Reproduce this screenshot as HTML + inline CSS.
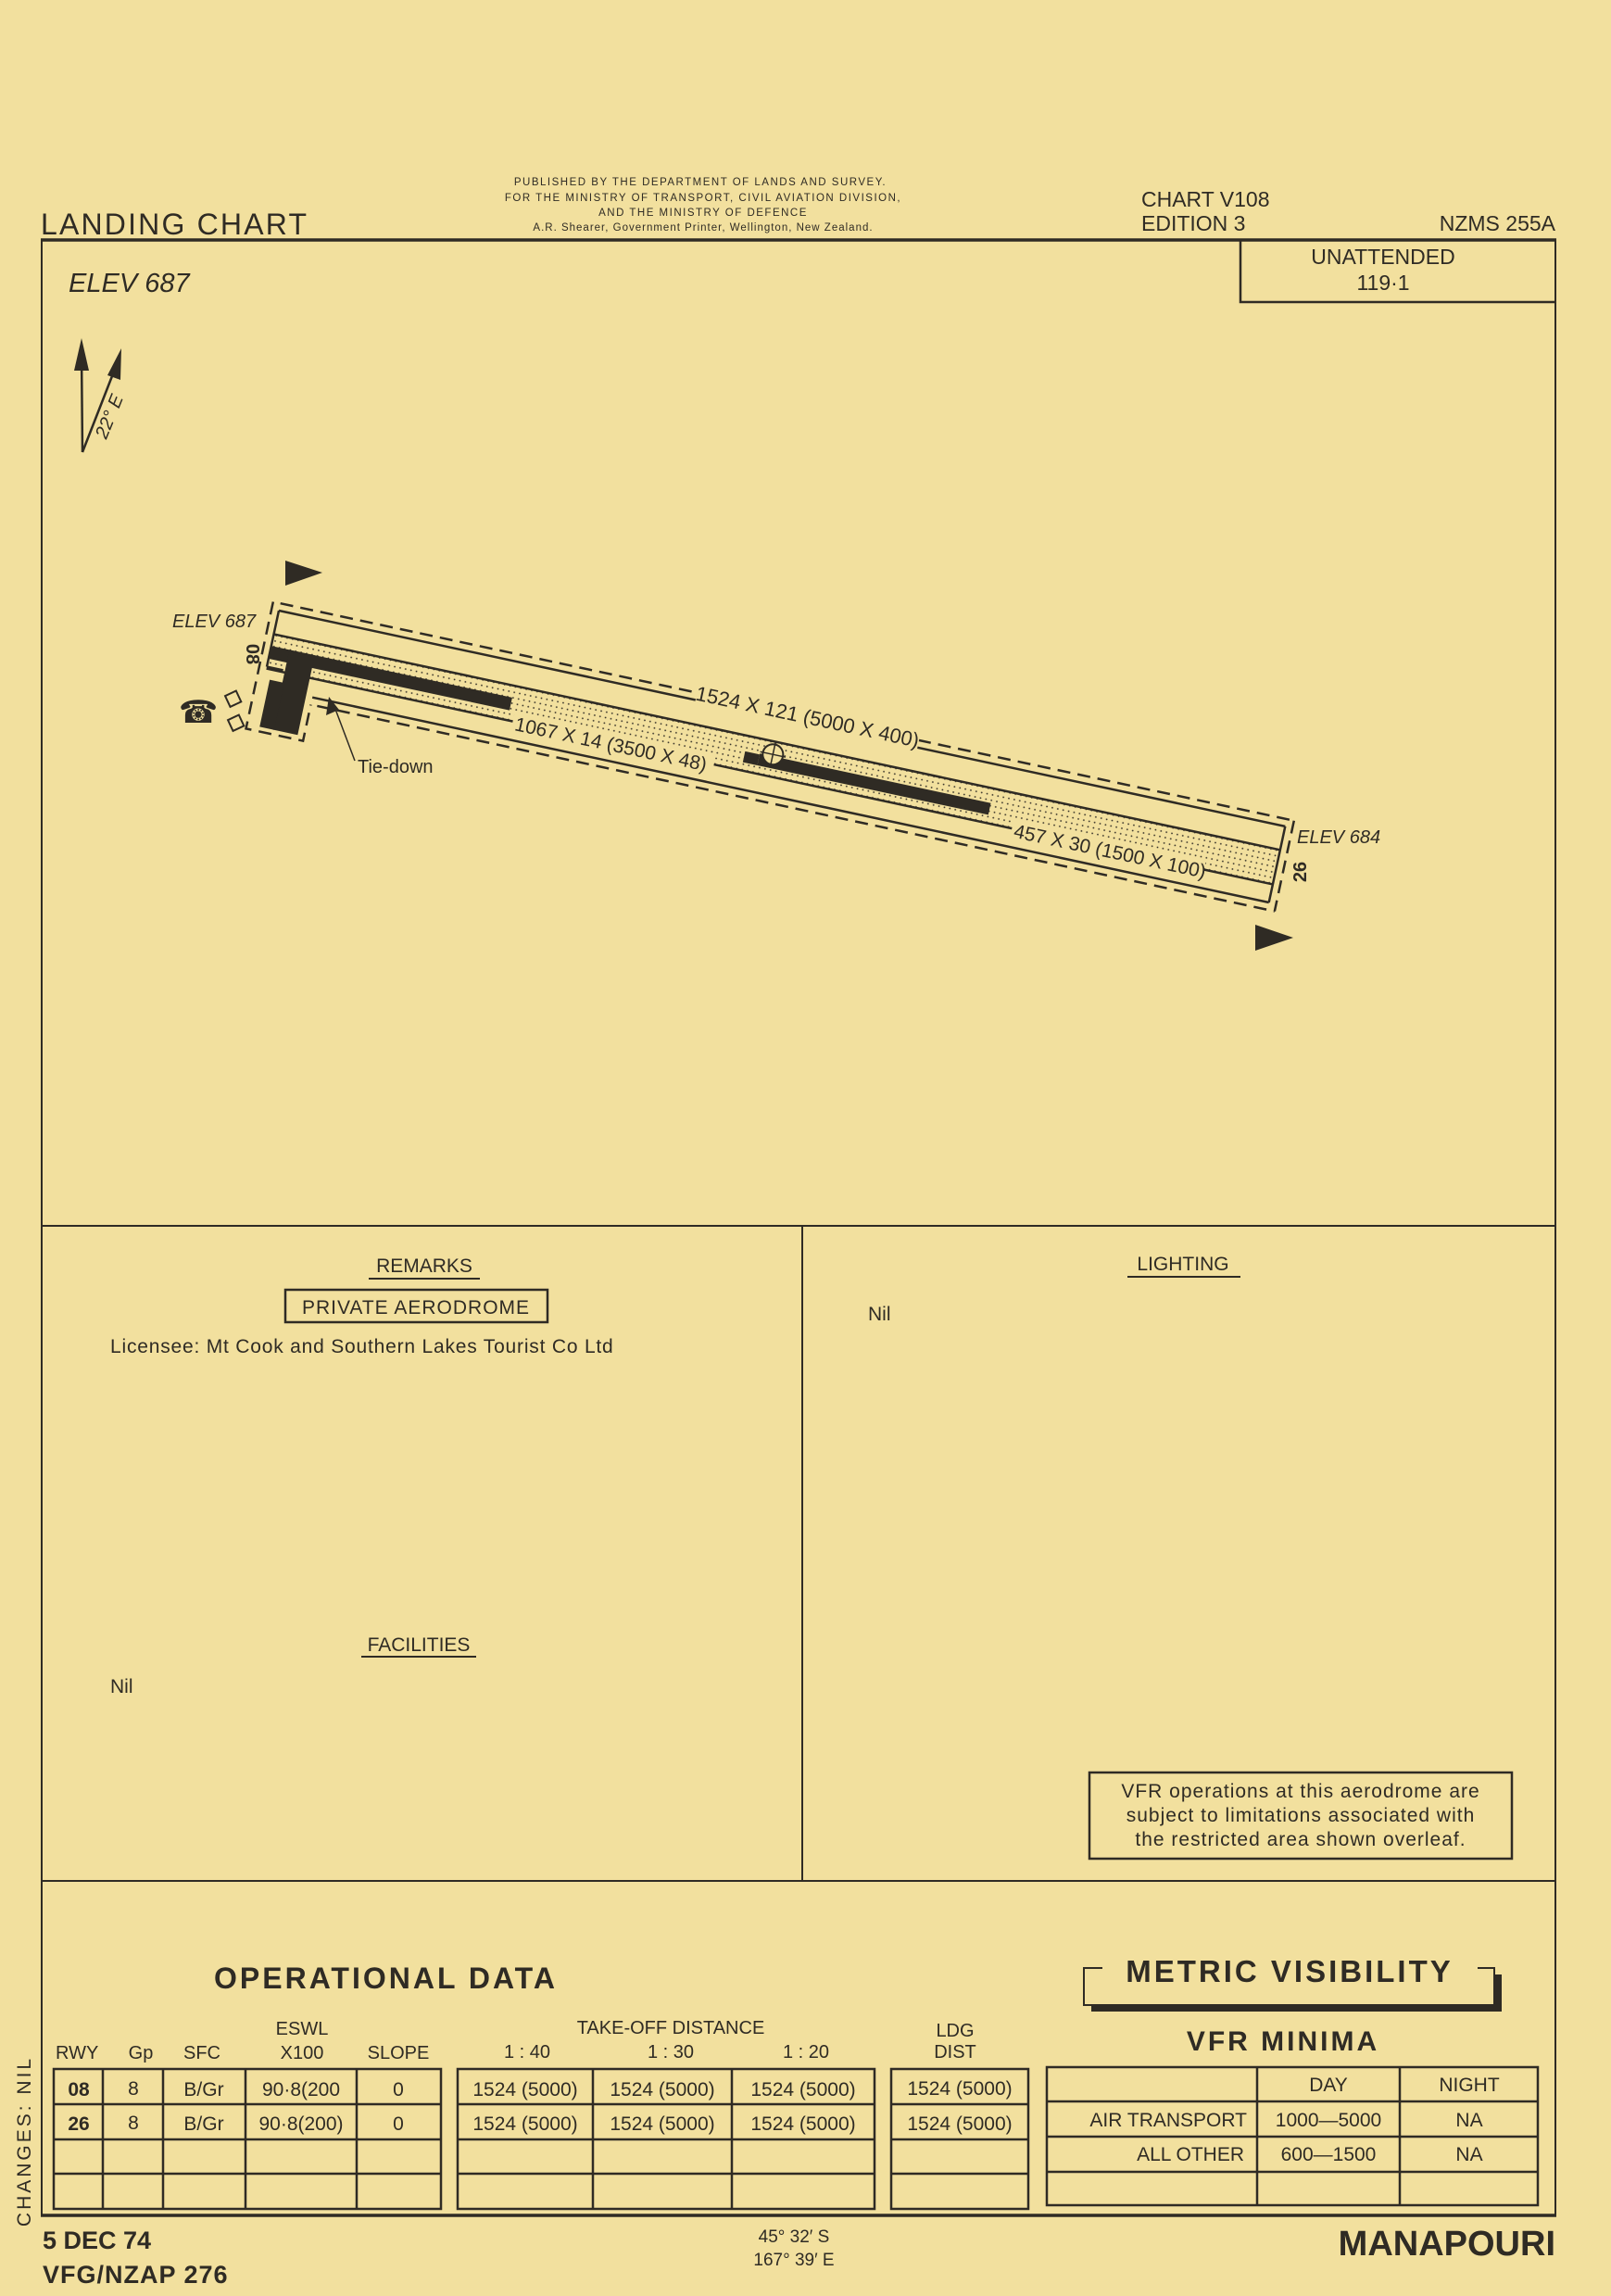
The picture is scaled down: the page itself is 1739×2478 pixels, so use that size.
<!DOCTYPE html>
<html><head><meta charset="utf-8"><style>
html,body{margin:0;padding:0;background:#f2e09e;}
svg{display:block;}
text{font-family:"Liberation Sans",sans-serif;fill:#2f2b24;}
</style></head><body>
<svg width="1739" height="2478" viewBox="0 0 1739 2478" xmlns="http://www.w3.org/2000/svg">
<defs>
<pattern id="dots" width="6" height="6" patternUnits="userSpaceOnUse"><circle cx="3" cy="3" r="0.9" fill="#2f2b24"/></pattern>
</defs>
<rect width="1739" height="2478" fill="#f2e09e"/>
<g stroke="#2f2b24" fill="none">
<line x1="44" y1="259" x2="1680" y2="259" stroke-width="3.5"/>
<line x1="45" y1="259" x2="45" y2="2392" stroke-width="2"/>
<line x1="1679" y1="259" x2="1679" y2="2392" stroke-width="2"/>
<line x1="44" y1="1323" x2="1680" y2="1323" stroke-width="2"/>
<line x1="866" y1="1323" x2="866" y2="2030" stroke-width="2"/>
<line x1="44" y1="2030" x2="1680" y2="2030" stroke-width="2"/>
<line x1="44" y1="2391" x2="1680" y2="2391" stroke-width="3.5"/>
<polyline points="1339,259 1339,326 1679,326" stroke-width="2.5"/>
</g>
<text x="44" y="253" font-size="32" textLength="287">LANDING CHART</text>
<g font-size="11.5" text-anchor="middle" letter-spacing="1.5">
<text x="756" y="200">PUBLISHED BY THE DEPARTMENT OF LANDS AND SURVEY.</text>
<text x="759" y="217">FOR THE MINISTRY OF TRANSPORT, CIVIL AVIATION DIVISION,</text>
<text x="759" y="233">AND THE MINISTRY OF DEFENCE</text>
<text x="759" y="249" letter-spacing="1">A.R. Shearer, Government Printer, Wellington, New Zealand.</text>
</g>
<text x="1232" y="223" font-size="23">CHART V108</text>
<text x="1232" y="249" font-size="23">EDITION 3</text>
<text x="1679" y="249" font-size="23" text-anchor="end">NZMS 255A</text>
<text x="1493" y="285" font-size="23" text-anchor="middle">UNATTENDED</text>
<text x="1493" y="313" font-size="23" text-anchor="middle">119·1</text>
<text x="74" y="315" font-size="29" font-style="italic">ELEV 687</text>
<g stroke="#2f2b24" stroke-width="2.5" fill="#2f2b24">
<line x1="89" y1="488" x2="88" y2="380"/>
<line x1="89" y1="488" x2="128" y2="388"/>
<polygon points="88,365 80,400 96,400" stroke="none"/>
<polygon points="131,376 116,405 130,410" stroke="none"/>
</g>
<text transform="translate(124,452) rotate(-68)" font-size="20" font-style="italic" text-anchor="middle">22° E</text>
<polygon points="308,605 308,632 348,618" fill="#2f2b24"/>
<polygon points="1355,998 1355,1026 1396,1012" fill="#2f2b24"/>
<g transform="translate(301,659) rotate(12.1)">
<rect x="0" y="26" width="1111" height="38" fill="url(#dots)"/>
<g stroke="#2f2b24" fill="none" stroke-width="2.5">
<line x1="0" y1="0" x2="1111" y2="0"/>
<line x1="1111" y1="0" x2="1111" y2="84"/>
<line x1="55" y1="84" x2="1111" y2="84"/>
<line x1="0" y1="0" x2="0" y2="62"/>
<line x1="0" y1="26" x2="1111" y2="26"/>
<line x1="0" y1="64" x2="1111" y2="64"/>
<line x1="0" y1="62" x2="18" y2="62"/>
</g>
<g stroke="#2f2b24" fill="none" stroke-width="2.5" stroke-dasharray="14,8">
<line x1="0" y1="-8" x2="1119" y2="-8"/>
<line x1="1119" y1="-8" x2="1119" y2="92"/>
<line x1="62" y1="92" x2="1119" y2="92"/>
<polyline points="-8,-8 -8,132 55,132 55,92"/>
</g>
<rect x="0" y="39" width="266" height="14" fill="#2f2b24"/>
<rect x="20" y="39" width="28" height="88" fill="#2f2b24"/>
<rect x="6" y="75" width="16" height="52" fill="#2f2b24"/>
<rect x="540" y="42" width="255" height="13" fill="#2f2b24"/>
<rect x="524" y="43" width="16" height="12" fill="#2f2b24"/>
<circle cx="554" cy="40" r="11" fill="#f2e09e" stroke="#2f2b24" stroke-width="2"/>
<line x1="540" y1="40" x2="568" y2="40" stroke="#2f2b24" stroke-width="1.5"/>
<line x1="554" y1="26" x2="554" y2="54" stroke="#2f2b24" stroke-width="1.5"/>
<rect x="460" y="-18" width="245" height="22" fill="#f2e09e"/>
<text x="582" y="0" font-size="22" text-anchor="middle">1524 X 121 (5000 X 400)</text>
<rect x="272" y="55" width="222" height="22" fill="#f2e09e"/>
<text x="275" y="73" font-size="21">1067 X 14  (3500 X 48)</text>
<rect x="823" y="55" width="212" height="22" fill="#f2e09e"/>
<text x="826" y="73" font-size="21">457 X 30 (1500 X 100)</text>
</g>
<text transform="translate(266,706) rotate(90)" font-size="20" font-weight="bold" text-anchor="middle">08</text>
<text transform="translate(1410,941) rotate(-90)" font-size="20" font-weight="bold" text-anchor="middle">26</text>
<text x="186" y="677" font-size="20" font-style="italic">ELEV 687</text>
<text x="1400" y="910" font-size="20" font-style="italic">ELEV 684</text>
<line x1="360" y1="760" x2="383" y2="821" stroke="#2f2b24" stroke-width="1.5"/>
<polygon points="355,752 352,772 366,766" fill="#2f2b24"/>
<text x="386" y="834" font-size="20">Tie-down</text>
<text x="214" y="780" font-size="34" text-anchor="middle" font-family="DejaVu Sans">☎</text>
<rect x="245" y="748" width="13" height="13" fill="none" stroke="#2f2b24" stroke-width="2" transform="rotate(-25 251 754)"/>
<rect x="248" y="774" width="13" height="13" fill="none" stroke="#2f2b24" stroke-width="2" transform="rotate(-25 254 780)"/>
<text x="458" y="1373" font-size="21" text-anchor="middle">REMARKS</text>
<line x1="398" y1="1380" x2="518" y2="1380" stroke="#2f2b24" stroke-width="2"/>
<rect x="308" y="1392" width="283" height="35" fill="none" stroke="#2f2b24" stroke-width="2.5"/>
<text x="449" y="1418" font-size="21" text-anchor="middle" letter-spacing="1">PRIVATE AERODROME</text>
<text x="119" y="1460" font-size="21" letter-spacing="0.8">Licensee: Mt Cook and Southern Lakes Tourist Co Ltd</text>
<text x="452" y="1782" font-size="21" text-anchor="middle">FACILITIES</text>
<line x1="390" y1="1788" x2="514" y2="1788" stroke="#2f2b24" stroke-width="2"/>
<text x="119" y="1827" font-size="21">Nil</text>
<text x="1277" y="1371" font-size="21" text-anchor="middle">LIGHTING</text>
<line x1="1217" y1="1378" x2="1339" y2="1378" stroke="#2f2b24" stroke-width="2"/>
<text x="937" y="1425" font-size="21">Nil</text>
<rect x="1176" y="1913" width="456" height="93" fill="none" stroke="#2f2b24" stroke-width="2.5"/>
<g font-size="21" text-anchor="middle" letter-spacing="1">
<text x="1404" y="1940">VFR operations at this aerodrome are</text>
<text x="1404" y="1966">subject to limitations associated with</text>
<text x="1404" y="1992">the restricted area shown overleaf.</text>
</g>
<text x="231" y="2146" font-size="32" font-weight="bold" letter-spacing="3">OPERATIONAL  DATA</text>
<rect x="1178" y="2131" width="443" height="40" fill="#2f2b24"/>
<rect x="1170" y="2124" width="443" height="40" fill="#f2e09e" stroke="#2f2b24" stroke-width="2"/>
<rect x="1190" y="2110" width="405" height="22" fill="#f2e09e"/>
<text x="1392" y="2139" font-size="33" font-weight="bold" text-anchor="middle" letter-spacing="3">METRIC  VISIBILITY</text>
<text x="1385" y="2213" font-size="30" font-weight="bold" text-anchor="middle" letter-spacing="3">VFR  MINIMA</text>
<g font-size="20" text-anchor="middle">
<text x="326" y="2196">ESWL</text>
<text x="60" y="2222" text-anchor="start">RWY</text>
<text x="152" y="2222">Gp</text>
<text x="218" y="2222">SFC</text>
<text x="326" y="2222">X100</text>
<text x="430" y="2222">SLOPE</text>
<text x="724" y="2195">TAKE-OFF DISTANCE</text>
<text x="569" y="2221">1 : 40</text>
<text x="724" y="2221">1 : 30</text>
<text x="870" y="2221">1 : 20</text>
<text x="1031" y="2198">LDG</text>
<text x="1031" y="2221">DIST</text>
</g>
<g stroke="#2f2b24" stroke-width="2.5" fill="none">
<rect x="58" y="2233" width="418" height="151"/>
<line x1="111" y1="2233" x2="111" y2="2384"/><line x1="176" y1="2233" x2="176" y2="2384"/>
<line x1="265" y1="2233" x2="265" y2="2384"/><line x1="385" y1="2233" x2="385" y2="2384"/>
<rect x="494" y="2233" width="450" height="151"/>
<line x1="640" y1="2233" x2="640" y2="2384"/><line x1="790" y1="2233" x2="790" y2="2384"/>
<rect x="962" y="2233" width="148" height="151"/>
<line x1="58" y1="2271" x2="476" y2="2271"/><line x1="58" y1="2309" x2="476" y2="2309"/><line x1="58" y1="2346" x2="476" y2="2346"/>
<line x1="494" y1="2271" x2="944" y2="2271"/><line x1="494" y1="2309" x2="944" y2="2309"/><line x1="494" y1="2346" x2="944" y2="2346"/>
<line x1="962" y1="2271" x2="1110" y2="2271"/><line x1="962" y1="2309" x2="1110" y2="2309"/><line x1="962" y1="2346" x2="1110" y2="2346"/>
<rect x="1130" y="2231" width="530" height="149"/>
<line x1="1357" y1="2231" x2="1357" y2="2380"/><line x1="1511" y1="2231" x2="1511" y2="2380"/>
<line x1="1130" y1="2268" x2="1660" y2="2268"/><line x1="1130" y1="2306" x2="1660" y2="2306"/><line x1="1130" y1="2344" x2="1660" y2="2344"/>
</g>
<g font-size="21" text-anchor="middle">
<text x="85" y="2262" font-weight="bold">08</text><text x="144" y="2261">8</text><text x="220" y="2262">B/Gr</text><text x="325" y="2262">90·8(200</text><text x="430" y="2262">0</text>
<text x="85" y="2299" font-weight="bold">26</text><text x="144" y="2298">8</text><text x="220" y="2299">B/Gr</text><text x="325" y="2299">90·8(200)</text><text x="430" y="2299">0</text>
<text x="567" y="2262">1524 (5000)</text><text x="715" y="2262">1524 (5000)</text><text x="867" y="2262">1524 (5000)</text>
<text x="567" y="2299">1524 (5000)</text><text x="715" y="2299">1524 (5000)</text><text x="867" y="2299">1524 (5000)</text>
<text x="1036" y="2261">1524 (5000)</text><text x="1036" y="2299">1524 (5000)</text>
<text x="1434" y="2257">DAY</text><text x="1586" y="2257">NIGHT</text>
<text x="1346" y="2295" text-anchor="end">AIR TRANSPORT</text><text x="1434" y="2295">1000—5000</text><text x="1586" y="2295">NA</text>
<text x="1343" y="2332" text-anchor="end">ALL OTHER</text><text x="1434" y="2332">600—1500</text><text x="1586" y="2332">NA</text>
</g>
<text transform="translate(33,2311) rotate(-90)" font-size="21" text-anchor="middle" letter-spacing="3">CHANGES: NIL</text>
<text x="46" y="2427" font-size="27" font-weight="bold">5 DEC 74</text>
<text x="46" y="2464" font-size="27" font-weight="bold" letter-spacing="1">VFG/NZAP 276</text>
<text x="857" y="2420" font-size="19" text-anchor="middle">45° 32′ S</text>
<text x="857" y="2445" font-size="19" text-anchor="middle">167° 39′ E</text>
<text x="1679" y="2434" font-size="38" font-weight="bold" text-anchor="end">MANAPOURI</text>
</svg>
</body></html>
